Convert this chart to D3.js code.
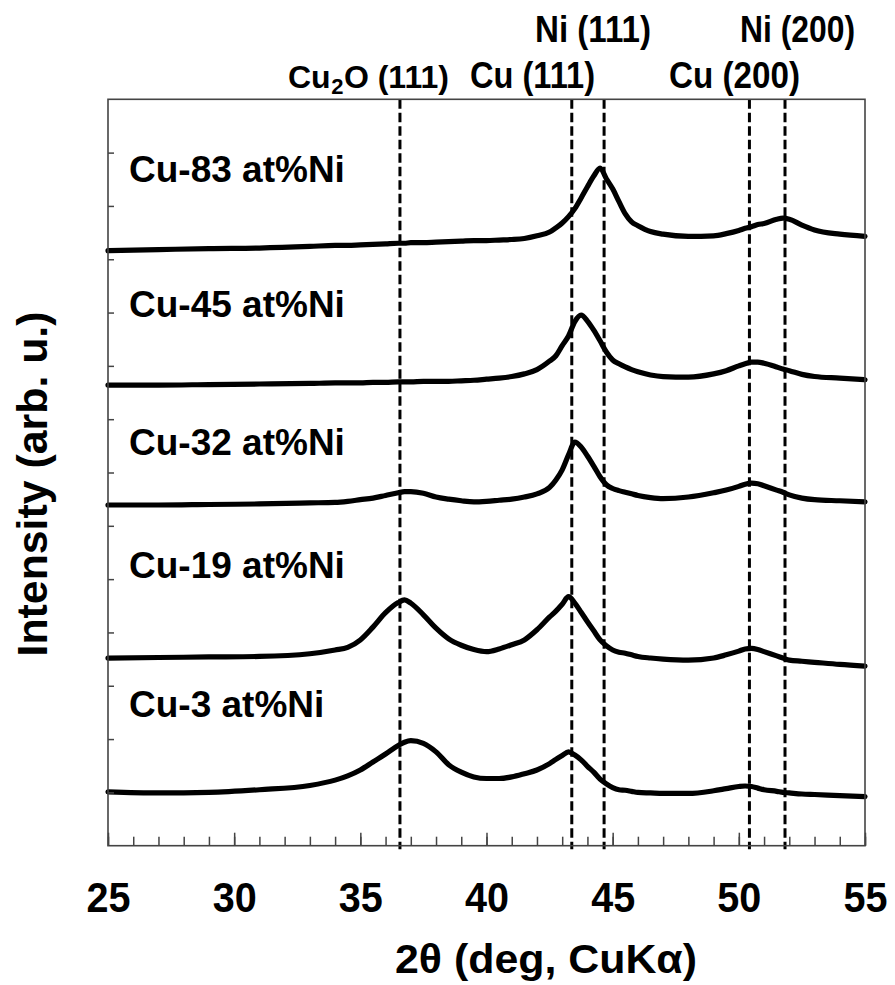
<!DOCTYPE html>
<html>
<head>
<meta charset="utf-8">
<script src="https://cdn.jsdelivr.net/npm/d3@7"></script>
<style>
  html, body { margin: 0; padding: 0; background: #fff; }
  svg { display: block; }
  text { font-family: "Liberation Sans", Arial, sans-serif; font-weight: bold; fill: #000; }
</style>
</head>
<body>
<svg id="chart" width="895" height="985"></svg>
<script>
// ---------- data ----------
const angles = [25,27,29,31,33,34,34.5,35,35.5,36,36.5,36.75,37,37.5,38,38.5,39,39.5,40,40.5,41,41.5,42,42.5,42.75,43,43.25,43.5,43.75,44,44.25,44.5,44.75,45,45.25,45.5,45.75,46,46.5,47,48,49,49.5,50,50.25,50.5,50.75,51,51.5,51.75,52,52.5,53,54,55];

const cu83 = [11.16,11.18,11.20,11.21,11.24, 11.26,11.26,11.27,11.28,11.29, 11.30,11.30,11.31,11.31,11.32, 11.33,11.34,11.35,11.35,11.36, 11.37,11.39,11.44,11.51,11.59, 11.68,11.80,11.95,12.15,12.36, 12.56,12.71,12.51,12.32,12.08, 11.85,11.70,11.63,11.52,11.47, 11.43,11.44,11.48,11.54,11.58, 11.61,11.65,11.67,11.75,11.77, 11.75,11.64,11.55,11.47,11.43];
const cu45 = [8.64,8.64,8.65,8.66,8.67, 8.68,8.68,8.68,8.69,8.69, 8.70,8.70,8.70,8.71,8.71, 8.71,8.72,8.73,8.75,8.77, 8.80,8.85,8.93,9.09,9.19, 9.38,9.56,9.83,9.95,9.84, 9.67,9.47,9.26,9.11,9.04, 8.98,8.93,8.89,8.83,8.80, 8.79,8.85,8.91,9.00,9.04, 9.07,9.07,9.05,8.98,8.94, 8.91,8.84,8.80,8.77,8.74];
const cu32 = [6.39,6.39,6.40,6.41,6.43, 6.44,6.46,6.49,6.52,6.57, 6.62,6.64,6.64,6.61,6.54, 6.50,6.47,6.45,6.46,6.48, 6.50,6.54,6.60,6.72,6.86, 7.05,7.33,7.57,7.48,7.31, 7.12,6.92,6.77,6.70,6.66, 6.63,6.60,6.57,6.53,6.51, 6.54,6.62,6.67,6.74,6.78, 6.80,6.79,6.75,6.67,6.63, 6.58,6.52,6.49,6.47,6.45];
const cu19 = [3.52,3.53,3.54,3.55,3.60, 3.67,3.72,3.86,4.10,4.37, 4.56,4.61,4.55,4.33,4.08, 3.88,3.76,3.68,3.64,3.69, 3.77,3.86,4.05,4.29,4.40, 4.53,4.67,4.55,4.38,4.20, 4.03,3.86,3.75,3.67,3.63, 3.61,3.58,3.55,3.52,3.50, 3.48,3.52,3.58,3.65,3.69, 3.70,3.68,3.64,3.56,3.52, 3.48,3.46,3.44,3.40,3.37];
const cu3 = [1.01,0.99,1.00,1.05,1.13, 1.23,1.31,1.42,1.57,1.72, 1.88,1.94,1.97,1.92,1.76, 1.52,1.38,1.29,1.26,1.26, 1.29,1.35,1.42,1.54,1.62, 1.69,1.76,1.70,1.61,1.49, 1.38,1.25,1.16,1.09,1.05, 1.04,1.02,1.00,0.99,0.98, 0.98,1.03,1.07,1.11,1.12, 1.11,1.08,1.05,1.02,1.00, 0.99,0.97,0.96,0.94,0.92];

const seriesNames = ["Cu-83 at%Ni","Cu-45 at%Ni","Cu-32 at%Ni","Cu-19 at%Ni","Cu-3 at%Ni"];
const seriesValues = [cu83, cu45, cu32, cu19, cu3];
const labelLevels = [12.45, 9.91, 7.32, 5.03, 2.42];   // label baseline level (intensity units)

const peakAngles = [36.57, 43.38, 44.66, 50.42, 51.83];
const xTickValues = [25,30,35,40,45,50,55];
const xMinorTicks = d3.range(25, 56, 1);
const yTickValues = d3.range(1, 14, 1);

// ---------- layout ----------
const svg = d3.select("#chart");
const W = 895, H = 985;
svg.append("rect").attr("width", W).attr("height", H).attr("fill", "#fff");

const x = d3.scaleLinear().domain([25, 55]).range([108, 865]);
const y = d3.scaleLinear().domain([0, 14]).range([845.7, 99.3]);

// dashed reference lines
svg.append("g").selectAll("line").data(peakAngles).join("line")
  .attr("x1", d => x(d)).attr("x2", d => x(d))
  .attr("y1", y(14)).attr("y2", y(0) + 3.5)
  .attr("stroke", "#000").attr("stroke-width", 3)
  .attr("stroke-dasharray", "9.5,4");

// curves
const line = d3.line()
  .x((d, i) => x(angles[i]))
  .y(d => y(d))
  .curve(d3.curveMonotoneX);

svg.append("g").selectAll("path").data(seriesValues).join("path")
  .attr("d", d => line(d))
  .attr("fill", "none")
  .attr("stroke", "#000")
  .attr("stroke-width", 5.2)
  .attr("stroke-linejoin", "round")
  .attr("stroke-linecap", "round");

// frame
svg.append("rect")
  .attr("x", x(25)).attr("y", y(14))
  .attr("width", x(55) - x(25)).attr("height", y(0) - y(14))
  .attr("fill", "none").attr("stroke", "#444").attr("stroke-width", 1.6);

// x minor ticks
svg.append("g").attr("transform", `translate(0,${y(0)})`)
  .call(d3.axisBottom(x).tickValues(xMinorTicks).tickSizeInner(-9).tickSizeOuter(0).tickFormat(""))
  .call(g => g.select(".domain").remove())
  .call(g => g.selectAll("line").attr("stroke", "#444").attr("stroke-width", 1.5));

// x major ticks + labels
svg.append("g").attr("transform", `translate(0,${y(0)})`)
  .call(d3.axisBottom(x).tickValues(xTickValues).tickSizeInner(-13).tickSizeOuter(0).tickPadding(35.5).tickFormat(d3.format("d")))
  .call(g => g.select(".domain").remove())
  .call(g => g.selectAll("line").attr("stroke", "#444").attr("stroke-width", 1.5))
  .call(g => g.selectAll("text")
      .attr("font-size", 43).attr("font-family", null).attr("fill", "#000")
      .attr("textLength", 44).attr("lengthAdjust", "spacingAndGlyphs"));

// y ticks (inside, no labels)
svg.append("g").attr("transform", `translate(${x(25)},0)`)
  .call(d3.axisLeft(y).tickValues(yTickValues).tickSizeInner(-6).tickSizeOuter(0).tickFormat(""))
  .call(g => g.select(".domain").remove())
  .call(g => g.selectAll("line").attr("stroke", "#444").attr("stroke-width", 1.5));

// series labels
svg.append("g").selectAll("text").data(seriesNames).join("text")
  .attr("x", 129)
  .attr("y", (d, i) => y(labelLevels[i]))
  .attr("font-size", 37)
  .text(d => d);

// peak labels (top)
// Cu2O (111) with a real subscript, sized to its natural width
const cu2o = svg.append("text").attr("x", 288).attr("y", 88.3).attr("font-size", 32);
cu2o.append("tspan").text("Cu");
cu2o.append("tspan").attr("font-size", 22).attr("dy", 6).attr("dx", 0.5).text("2");
cu2o.append("tspan").attr("dy", -6).attr("dx", 0.5).text("O (111)");

const topLabels = [
  {text: "Cu (111)", x: 470, yb: 88.3, len: 125},
  {text: "Ni (111)", x: 535, yb: 41.7, len: 116},
  {text: "Cu (200)", x: 669, yb: 88.3, len: 131},
  {text: "Ni (200)", x: 740, yb: 41.7, len: 115}
];
svg.append("g").selectAll("text").data(topLabels).join("text")
  .attr("x", d => d.x).attr("y", d => d.yb).attr("font-size", 36)
  .attr("textLength", d => d.len).attr("lengthAdjust", "spacingAndGlyphs")
  .text(d => d.text);

// axis titles
svg.append("text")
  .attr("x", 546).attr("y", 973)
  .attr("text-anchor", "middle")
  .attr("font-size", 41)
  .attr("textLength", 302).attr("lengthAdjust", "spacingAndGlyphs")
  .text("2θ (deg, CuKα)");

svg.append("text")
  .attr("transform", "translate(47,484) rotate(-90)")
  .attr("text-anchor", "middle")
  .attr("font-size", 43)
  .attr("textLength", 345).attr("lengthAdjust", "spacingAndGlyphs")
  .text("Intensity (arb. u.)");
</script>
</body>
</html>
